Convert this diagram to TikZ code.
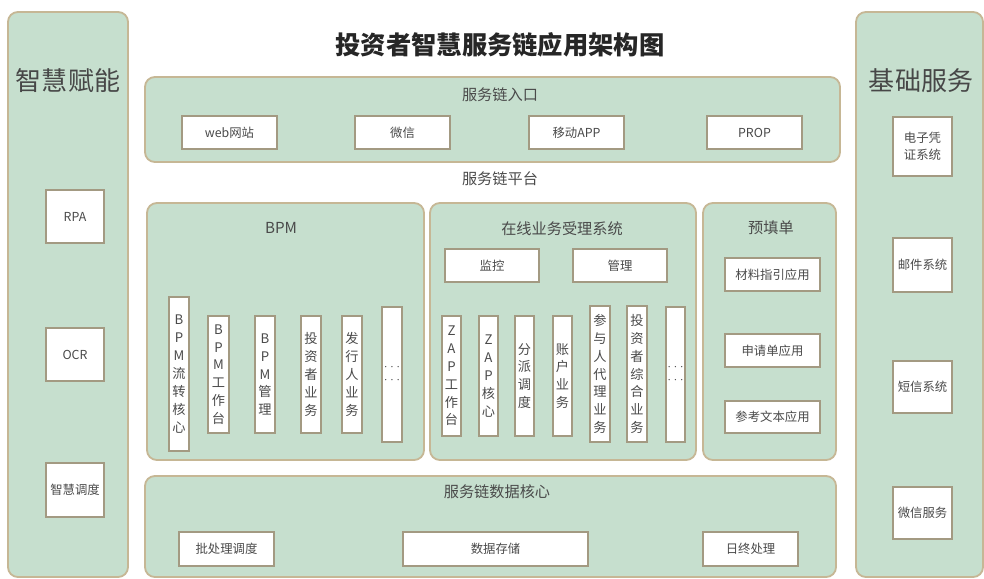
\documentclass[tikz,border=0pt]{standalone}
\usepackage{fontspec}
\setmainfont{Noto Sans CJK SC}
\definecolor{panelGreen}{HTML}{C6DFCE}
\definecolor{panelEdge}{HTML}{C6B795}
\definecolor{boxEdge}{HTML}{A39A82}
\definecolor{labelText}{HTML}{4A4A4A}
\definecolor{titleText}{HTML}{262626}
\usetikzlibrary{positioning,fit,calc}
\tikzset{
  panel/.style={rectangle,rounded corners=7pt,draw=panelEdge,line width=1.3pt,fill=panelGreen,inner sep=0pt},
  whitebox/.style={rectangle,draw=boxEdge,line width=1pt,fill=white,inner sep=0pt},
  boxtext/.style={align=center,text=labelText,inner sep=0pt,font=\fontsize{8.8}{12.2}\selectfont},
  coltext/.style={boxtext,font=\fontsize{9.4}{12.7}\selectfont},
  dottext/.style={boxtext,font=\fontsize{4.5}{9.5}\selectfont},
  sectitle/.style={font=\fontsize{10.8}{13}\selectfont,text=labelText},
  sidetitle/.style={font=\fontsize{18.5}{20}\selectfont,text=titleText!85},
  maintitle/.style={font=\fontsize{18}{20}\selectfont\bfseries,text=titleText},
}

\begin{document}
\begin{tikzpicture}[x=0.025cm,y=-0.025cm]
  \useasboundingbox (0,0) rectangle (984,578);

  \node[maintitle] (title) at (500,45) {投资者智慧服务链应用架构图};

  % side columns
  \node[panel, fit={(8,12) (128,577)}] (smart) {};
  \node[sidetitle] at (68,81) {智慧赋能};
  \node[whitebox, fit={(46,190) (104,243)}, label={[boxtext]center:RPA}] (rpa) {};
  \node[whitebox, fit={(46,328) (104,381)}, label={[boxtext]center:OCR}] (ocr) {};
  \node[whitebox, fit={(46,463) (104,517)}, label={[boxtext]center:智慧调度}] (sched) {};

  \node[panel, fit={(856,12) (983,577)}] (basic) {};
  \node[sidetitle] at (921,81) {基础服务};
  \node[whitebox, fit={(893,117) (952,176)}, label={[boxtext]center:电子凭\\证系统}] (voucher) {};
  \node[whitebox, fit={(893,238) (952,292)}, label={[boxtext]center:邮件系统}] (mail) {};
  \node[whitebox, fit={(893,361) (952,413)}, label={[boxtext]center:短信系统}] (sms) {};
  \node[whitebox, fit={(893,487) (952,539)}, label={[boxtext]center:微信服务}] (wxsvc) {};

  % entry
  \node[panel, fit={(145,77) (840,162)}] (entry) {};
  \node[sectitle] at (500,95) {服务链入口};
  \node[whitebox, fit={(182,116) (277,149)}, label={[boxtext]center:web网站}] (web) {};
  \node[whitebox, fit={(355,116) (450,149)}, label={[boxtext]center:微信}] (wechat) {};
  \node[whitebox, fit={(529,116) (624,149)}, label={[boxtext]center:移动APP}] (app) {};
  \node[whitebox, fit={(707,116) (802,149)}, label={[boxtext]center:PROP}] (prop) {};

  \node[sectitle] (platform) at (500,179) {服务链平台};

  % BPM
  \node[panel, fit={(147,203) (424,460)}] (bpm) {};
  \node[sectitle] at (281,228) {BPM};
  \node[whitebox, fit={(169,297) (189,451)}, label={[coltext]center:B\\P\\M\\流\\转\\核\\心}] (bpmcore) {};
  \node[whitebox, fit={(208,316) (229,433)}, label={[coltext]center:B\\P\\M\\工\\作\\台}] (bpmdesk) {};
  \node[whitebox, fit={(255,316) (275,433)}, label={[coltext]center:B\\P\\M\\管\\理}] (bpmmgr) {};
  \node[whitebox, fit={(301,316) (321,433)}, label={[coltext]center:投\\资\\者\\业\\务}] (investor) {};
  \node[whitebox, fit={(342,316) (362,433)}, label={[coltext]center:发\\行\\人\\业\\务}] (issuer) {};
  \node[whitebox, fit={(382,307) (402,442)}, label={[dottext]center:···\\···}] (bpmmore) {};

  % online system
  \node[panel, fit={(430,203) (696,460)}] (online) {};
  \node[sectitle] at (562,229) {在线业务受理系统};
  \node[whitebox, fit={(445,249) (539,282)}, label={[boxtext]center:监控}] (monitor) {};
  \node[whitebox, fit={(573,249) (667,282)}, label={[boxtext]center:管理}] (manage) {};
  \node[whitebox, fit={(442,316) (461,436)}, label={[coltext]center:Z\\A\\P\\工\\作\\台}] (zapdesk) {};
  \node[whitebox, fit={(479,316) (498,436)}, label={[coltext]center:Z\\A\\P\\核\\心}] (zapcore) {};
  \node[whitebox, fit={(515,316) (534,436)}, label={[coltext]center:分\\派\\调\\度}] (dispatch) {};
  \node[whitebox, fit={(553,316) (572,436)}, label={[coltext]center:账\\户\\业\\务}] (account) {};
  \node[whitebox, fit={(590,306) (610,442)}, label={[coltext]center:参\\与\\人\\代\\理\\业\\务}] (agent) {};
  \node[whitebox, fit={(627,306) (647,442)}, label={[coltext]center:投\\资\\者\\综\\合\\业\\务}] (overall) {};
  \node[whitebox, fit={(666,307) (685,442)}, label={[dottext]center:···\\···}] (onlinemore) {};

  % prefill
  \node[panel, fit={(703,203) (836,460)}] (prefill) {};
  \node[sectitle] at (771,228) {预填单};
  \node[whitebox, fit={(725,258) (820,291)}, label={[boxtext]center:材料指引应用}] (guide) {};
  \node[whitebox, fit={(725,334) (820,367)}, label={[boxtext]center:申请单应用}] (apply) {};
  \node[whitebox, fit={(725,401) (820,433)}, label={[boxtext]center:参考文本应用}] (reftext) {};

  % data core
  \node[panel, fit={(145,476) (836,577)}] (datacore) {};
  \node[sectitle] at (497,492) {服务链数据核心};
  \node[whitebox, fit={(179,532) (274,566)}, label={[boxtext]center:批处理调度}] (batch) {};
  \node[whitebox, fit={(403,532) (588,566)}, label={[boxtext]center:数据存储}] (storage) {};
  \node[whitebox, fit={(703,532) (798,566)}, label={[boxtext]center:日终处理}] (eod) {};
\end{tikzpicture}
\end{document}
